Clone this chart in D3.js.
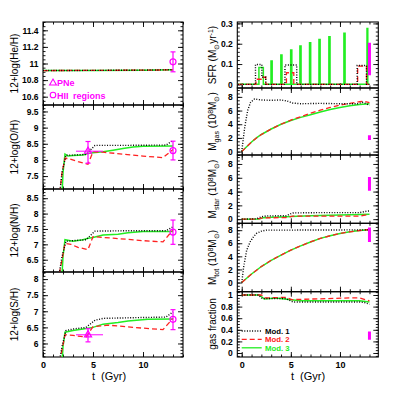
<!DOCTYPE html>
<html>
<head>
<meta charset="utf-8">
<script src="https://cdn.jsdelivr.net/npm/d3@7"></script>
<style>
body { margin: 0; background: #fff; }
text { font-family: "Liberation Sans", Arial, sans-serif; }
</style>
</head>
<body>
<svg id="fig" width="399" height="399"></svg>
<script>
// ---- data: [t (Gyr), value] ----
var he_mod1 = [[0,10.915],[5,10.917],[10,10.92],[13,10.925]];
var he_mod2 = [[0,10.915],[5,10.917],[10,10.92],[13,10.923]];
var he_mod3 = [[0,10.915],[5,10.917],[10,10.92],[13,10.924]];

var oh_mod1 = [[1.5,6.5],[1.9,7.6],[2.3,8.15],[3,8.15],[4.3,8.17],[5.2,8.45],[8,8.45],[12.3,8.46],[13,8.6]];
var oh_mod2 = [[1.5,6.5],[1.9,7.6],[2.2,8.05],[2.6,8.04],[3.5,7.95],[4.5,7.87],[5,8.25],[6,8.24],[8,8.18],[10,8.12],[12,8.07],[13,8.32]];
var oh_mod3 = [[1.9,6.9],[2.0,7.6],[2.2,8.18],[2.5,8.12],[3,8.14],[4,8.15],[4.5,8.2],[5,8.22],[6,8.25],[7,8.3],[8,8.35],[9,8.4],[10,8.42],[13,8.43]];

var nh_mod1 = [[1.5,5.8],[1.9,6.6],[2.3,7.1],[3,7.12],[4.3,7.15],[5.2,7.43],[8,7.44],[12.3,7.44],[13,7.57]];
var nh_mod2 = [[1.5,5.8],[1.9,6.5],[2.2,7.03],[2.8,7.0],[3.5,6.9],[4.5,6.83],[5,7.25],[7,7.2],[10,7.12],[12,7.08],[13,7.47]];
var nh_mod3 = [[1.9,6.0],[2.0,6.6],[2.2,7.15],[3,7.1],[4,7.15],[4.5,7.2],[5,7.22],[6,7.3],[7.5,7.33],[8.5,7.38],[10,7.42],[13,7.42]];

var sh_mod1 = [[1.5,5.2],[1.9,5.9],[2.3,6.4],[3,6.45],[4.3,6.5],[5.2,6.72],[6,6.78],[9,6.8],[12.3,6.82],[13,6.98]];
var sh_mod2 = [[1.5,5.2],[1.9,5.8],[2.2,6.27],[3,6.25],[4.3,6.2],[5,6.52],[6.5,6.57],[9,6.5],[12,6.43],[13,6.78]];
var sh_mod3 = [[1.9,5.4],[2.0,5.9],[2.2,6.35],[3,6.4],[4,6.45],[5,6.5],[6,6.6],[7.5,6.65],[8.5,6.7],[10.5,6.75],[13,6.76]];

// observations: [t, value, low, high]  (PNe also carry an age range)
var hii_he = [13, 11.02, 10.9, 11.14];
var hii_oh = [13, 8.29, 8.0, 8.58];
var hii_nh = [13, 7.4, 7.0, 7.79];
var hii_sh = [13, 6.75, 6.43, 7.05];
var pne_oh = [4.5, 8.27, 7.9, 8.57];
var pne_sh = [4.5, 6.27, 6.05, 6.46];
var pneAge = [3.3, 6.0];

// SFR change points (step functions)
var sfr_mod1 = [[-0.4,0],[1.4,0.098],[2.05,0.035],[2.45,0],[4.4,0.095],[5.6,0],[11.75,0.093],[12.7,0],[13,0]];
var sfr_mod2 = [[-0.4,0],[1.45,0.025],[2.05,0.035],[2.45,0],[4.55,0.057],[5.3,0],[11.8,0.09],[12.7,0],[13,0]];
var sfr_mod3 = [[-0.4,0],[1.75,0.083],[2.2,0],[2.98,0.115],[3.1,0],[3.98,0.144],[4.1,0],[4.98,0.169],[5.1,0],
                [5.92,0.189],[6.04,0],[6.9,0.205],[7.02,0],[7.86,0.221],[7.98,0],[8.87,0.234],[8.99,0],
                [10.4,0.251],[10.52,0],[12.75,0.275],[12.83,0],[13,0]];

var mgas_mod1 = [[0,0],[0.3,3.5],[0.6,6.0],[0.9,7.2],[1.3,7.7],[2,7.55],[3,7.5],[4,7.55],[4.6,7.4],[5.2,7.1],[6,7.0],[8,7.05],[10,7.0],[11.8,7.0],[12.3,7.2],[12.7,7.0],[13,6.75]];
var mgas_mod2 = [[0,0],[0.5,0.7],[1,1.4],[1.5,2.0],[2,2.5],[3,3.3],[4,4.0],[5,4.6],[6,5.1],[7,5.6],[8,6.05],[9,6.45],[10,6.8],[11,7.05],[12,7.3],[12.5,7.35],[13,7.15]];
var mgas_mod3 = [[0,0],[0.5,0.7],[1,1.4],[1.5,2.0],[2,2.5],[3,3.3],[4,4.0],[5,4.55],[6,5.0],[7,5.4],[8,5.8],[9,6.15],[10,6.45],[11,6.7],[12,6.9],[13,7.0]];

var mstar_mod1 = [[0,0],[1.5,0.05],[2,0.35],[2.5,0.47],[4.5,0.5],[5.2,0.9],[8,0.95],[12,0.95],[12.7,1.15],[13,1.2]];
var mstar_mod2 = [[0,0],[1.5,0.02],[2,0.15],[2.5,0.2],[4.5,0.22],[5.2,0.45],[12,0.45],[13,0.7]];
var mstar_mod3 = [[0,0],[1.8,0.02],[2.2,0.22],[3,0.28],[4,0.33],[5,0.4],[7,0.5],[10,0.6],[13,0.72]];

var mtot_mod1 = [[0,0],[0.2,2.4],[0.5,4.9],[0.85,6.2],[1.2,7.0],[1.5,7.5],[2,7.85],[2.5,8.0],[13,8.05]];
var mtot_mod2 = [[0,0],[1,1.3],[2,2.45],[3,3.4],[4,4.2],[5,4.95],[6,5.6],[7,6.2],[8,6.75],[9,7.15],[10,7.5],[11,7.75],[12,7.95],[13,8.1]];
var mtot_mod3 = [[0,0],[1,1.3],[2,2.45],[3,3.4],[4,4.2],[5,4.95],[6,5.6],[7,6.2],[8,6.75],[9,7.15],[10,7.5],[11,7.75],[12,7.95],[13,8.08]];

var fgas_mod1 = [[0,1.0],[1.7,1.0],[2.1,0.94],[4.5,0.94],[5.2,0.88],[12,0.88],[12.5,0.87],[13,0.84]];
var fgas_mod2 = [[0,1.0],[2,1.0],[2.4,0.95],[4.5,0.96],[5.1,0.92],[7,0.93],[11,0.95],[12,0.95],[13,0.9]];
var fgas_mod3 = [[0,1.0],[1.8,1.0],[2.3,0.93],[3.5,0.95],[5,0.92],[6,0.9],[12,0.9],[13,0.88]];

// observed ranges at t = 13 Gyr: [t, low, high]
var obs_sfr = [13, 0.045, 0.205];
var obs_mgas = [13, 1.7, 2.4];
var obs_mstar = [13, 4.1, 6.1];
var obs_mtot = [13, 6.2, 8.4];
var obs_fgas = [13, 0.23, 0.37];

var xTicks = [0, 5, 10];
var heTicks = [10.6, 10.8, 11, 11.2, 11.4];
var ohTicks = [7.5, 8, 8.5, 9, 9.5];
var nhTicks = [6.5, 7, 7.5, 8, 8.5];
var shTicks = [6, 6.5, 7, 7.5, 8];
var sfrTicks = [0, 0.1, 0.2, 0.3];
var massTicks = [0, 2, 4, 6, 8];
var fgasTicks = [0, 0.2, 0.4, 0.6, 0.8, 1];

var modNames = ["Mod. 1", "Mod. 2", "Mod. 3"];
var modColor = ["#000000", "#ff2020", "#22ee22"];
var modDash = ["1,1.6", "5,3", null];
var magenta = "#ff00ff";

var svg = d3.select("#fig");
var defs = svg.append("defs");
var fmt = d3.format("~g");

var xL = d3.scaleLinear().domain([0, 14]).range([43, 183]);
var xR = d3.scaleLinear().domain([-0.45, 13.9]).range([237.3, 378.3]);

function minorOf(dom, step) {
  var lo = Math.ceil(Math.min(dom[0], dom[1]) / step - 1e-6);
  var hi = Math.floor(Math.max(dom[0], dom[1]) / step + 1e-6);
  return d3.range(lo, hi + 1).map(function(i) { return +(i * step).toFixed(4); });
}

var clipN = 0;
function panel(x, top, bottom, ydom, yMajor, yMinorStep, showX) {
  var y = d3.scaleLinear().domain(ydom).range([bottom, top]);
  var x0 = x.range()[0], x1 = x.range()[1];
  var g = svg.append("g");
  var xMinor = minorOf(x.domain(), 1);
  var yMinor = minorOf(ydom, yMinorStep);

  function ax(gen, tx, ty, vals, size, labels, pad) {
    var a = g.append("g").attr("transform", "translate(" + tx + "," + ty + ")")
      .call(gen.tickValues(vals).tickSize(size).tickSizeOuter(0).tickPadding(pad || 3)
        .tickFormat(labels ? fmt : ""));
    a.select(".domain").remove();
    a.selectAll("line").attr("stroke-width", 0.9);
    a.selectAll("text").attr("font-size", 8.5).attr("font-weight", "bold")
      .attr("font-family", "'Liberation Sans', Arial, sans-serif");
    return a;
  }
  ax(d3.axisLeft(y), x0, 0, yMajor, -5, true, 4.5);
  ax(d3.axisLeft(y), x0, 0, yMinor, -2.5, false);
  ax(d3.axisRight(y), x1, 0, yMajor, -5, false);
  ax(d3.axisRight(y), x1, 0, yMinor, -2.5, false);
  ax(d3.axisTop(x), 0, top, xTicks, -5, false);
  ax(d3.axisTop(x), 0, top, xMinor, -2.5, false);
  var b = ax(d3.axisBottom(x), 0, bottom, xTicks, -5, showX, 5);
  ax(d3.axisBottom(x), 0, bottom, xMinor, -2.5, false);
  b.selectAll("text").attr("font-size", 9);

  g.append("rect").attr("x", x0).attr("y", top).attr("width", x1 - x0).attr("height", bottom - top)
    .attr("fill", "none").attr("stroke", "#000").attr("stroke-width", 1.1);

  var id = "clip" + (clipN++);
  defs.append("clipPath").attr("id", id).append("rect")
    .attr("x", x0).attr("y", top).attr("width", x1 - x0).attr("height", bottom - top);
  var plot = svg.append("g").attr("clip-path", "url(#" + id + ")");
  return { x: x, y: y, g: plot, top: top, bottom: bottom };
}

function models(p, series, curve) {
  var line = d3.line().x(function(d) { return p.x(d[0]); }).y(function(d) { return p.y(d[1]); });
  if (curve) line.curve(curve);
  [2, 1, 0].forEach(function(i) {
    p.g.append("path").datum(series[i]).attr("d", line)
      .attr("fill", "none").attr("stroke", modColor[i])
      .attr("stroke-width", i == 0 ? 1.4 : (i == 2 ? 1.5 : 1.3))
      .attr("stroke-dasharray", modDash[i]);
  });
}

function hii(p, o) {
  p.g.append("line").attr("x1", p.x(o[0])).attr("x2", p.x(o[0]))
    .attr("y1", p.y(o[2])).attr("y2", p.y(o[3])).attr("stroke", magenta).attr("stroke-width", 1.2);
  [o[2], o[3]].forEach(function(v) {
    p.g.append("line").attr("x1", p.x(o[0]) - 2.5).attr("x2", p.x(o[0]) + 2.5)
      .attr("y1", p.y(v)).attr("y2", p.y(v)).attr("stroke", magenta).attr("stroke-width", 1.2);
  });
  p.g.append("circle").attr("class", "hii").attr("cx", p.x(o[0])).attr("cy", p.y(o[1])).attr("r", 3)
    .attr("fill", "none").attr("stroke", magenta).attr("stroke-width", 1.2);
}

function pne(p, o) {
  var cx = p.x(o[0]);
  p.g.append("line").attr("x1", p.x(pneAge[0])).attr("x2", p.x(pneAge[1]))
    .attr("y1", p.y(o[1])).attr("y2", p.y(o[1])).attr("stroke", magenta).attr("stroke-width", 1);
  p.g.append("line").attr("x1", cx).attr("x2", cx)
    .attr("y1", p.y(o[2])).attr("y2", p.y(o[3])).attr("stroke", magenta).attr("stroke-width", 1.2);
  [o[2], o[3]].forEach(function(v) {
    p.g.append("line").attr("x1", cx - 2.5).attr("x2", cx + 2.5)
      .attr("y1", p.y(v)).attr("y2", p.y(v)).attr("stroke", magenta).attr("stroke-width", 1.2);
  });
  p.g.append("path").attr("d", d3.symbol(d3.symbolTriangle, 22)())
    .attr("transform", "translate(" + cx + "," + p.y(o[1]) + ")")
    .attr("fill", "none").attr("stroke", magenta).attr("stroke-width", 1.2);
}

function obsBar(p, o) {
  p.g.append("line").attr("x1", p.x(o[0])).attr("x2", p.x(o[0]))
    .attr("y1", p.y(o[1])).attr("y2", p.y(o[2])).attr("stroke", magenta).attr("stroke-width", 3);
}

function title(cx, cy, parts, fs) {
  fs = fs || 10;
  var t = svg.append("text")
    .attr("transform", "translate(" + cx + "," + cy + ") rotate(-90)")
    .attr("text-anchor", "middle").attr("font-size", fs);
  var shift = 0;
  parts.forEach(function(pt) {
    var s = pt[1] == "sub" ? 2.5 : pt[1] == "sup" ? -3.5 : 0;
    t.append("tspan").attr("dy", s - shift).attr("font-size", s ? fs * 0.7 : fs).text(pt[0]);
    shift = s;
  });
}

// ---- left column ----
var pHe = panel(xL, 22, 105, [10.5, 11.5], heTicks, 0.05, false);
models(pHe, [he_mod1, he_mod2, he_mod3]);
hii(pHe, hii_he);

var pO = panel(xL, 105, 189, [7.1, 9.7], ohTicks, 0.1, false);
models(pO, [oh_mod1, oh_mod2, oh_mod3]);
pne(pO, pne_oh);
hii(pO, hii_oh);

var pN = panel(xL, 189, 272, [6.1, 8.8], nhTicks, 0.1, false);
models(pN, [nh_mod1, nh_mod2, nh_mod3]);
hii(pN, hii_nh);

var pS = panel(xL, 272, 357, [5.58, 8.22], shTicks, 0.1, true);
models(pS, [sh_mod1, sh_mod2, sh_mod3]);
pne(pS, pne_sh);
hii(pS, hii_sh);

// legend for observations
svg.append("path").attr("d", d3.symbol(d3.symbolTriangle, 20)())
  .attr("transform", "translate(53,83)").attr("fill", "none").attr("stroke", magenta).attr("stroke-width", 1.1);
svg.append("text").attr("x", 57).attr("y", 86).attr("font-size", 9).attr("font-weight", "bold")
  .attr("fill", magenta).text("PNe");
svg.append("circle").attr("cx", 53).attr("cy", 95).attr("r", 2.8)
  .attr("fill", "none").attr("stroke", magenta).attr("stroke-width", 1.1);
svg.append("text").attr("x", 57).attr("y", 98.5).attr("font-size", 9).attr("font-weight", "bold")
  .attr("fill", magenta).attr("word-spacing", 2).text("HII regions");

title(18, 63.5, [["12+log(He/H)"]]);
title(18, 147, [["12+log(O/H)"]]);
title(18, 230.5, [["12+log(N/H)"]]);
title(18, 314.5, [["12+log(S/H)"]]);

// ---- right column ----
var pSfr = panel(xR, 22, 88, [-0.018, 0.307], sfrTicks, 0.02, false);
models(pSfr, [sfr_mod1, sfr_mod2, sfr_mod3], d3.curveStepAfter);
obsBar(pSfr, obs_sfr);

var pGas = panel(xR, 88, 155, [-0.5, 9.3], massTicks, 0.5, false);
models(pGas, [mgas_mod1, mgas_mod2, mgas_mod3]);
obsBar(pGas, obs_mgas);

var pStar = panel(xR, 155, 223.3, [-0.6, 9.3], massTicks, 0.5, false);
models(pStar, [mstar_mod1, mstar_mod2, mstar_mod3]);
obsBar(pStar, obs_mstar);

var pTot = panel(xR, 223.3, 291.7, [-1.4, 9.05], massTicks, 0.5, false);
models(pTot, [mtot_mod1, mtot_mod2, mtot_mod3]);
obsBar(pTot, obs_mtot);

var pF = panel(xR, 291.7, 357, [-0.069, 1.057], fgasTicks, 0.05, true);
models(pF, [fgas_mod1, fgas_mod2, fgas_mod3]);
obsBar(pF, obs_fgas);

title(216, 55, [["SFR  (M"], ["\u2299", "sub"], ["yr"], ["-1", "sup"], [")"]]);
title(216, 121.5, [["M"], ["gas", "sub"], ["  (10"], ["8", "sup"], ["M"], ["\u2299", "sub"], [")"]]);
title(216, 189, [["M"], ["star", "sub"], ["  (10"], ["8", "sup"], ["M"], ["\u2299", "sub"], [")"]]);
title(216, 257.5, [["M"], ["tot", "sub"], ["  (10"], ["8", "sup"], ["M"], ["\u2299", "sub"], [")"]]);
title(216, 324, [["gas fraction"]]);

// model legend
modNames.forEach(function(n, i) {
  var yy = 331 + i * 8.4;
  svg.append("line").attr("x1", 241.7).attr("x2", 261.7).attr("y1", yy).attr("y2", yy)
    .attr("stroke", modColor[i]).attr("stroke-width", 1.3).attr("stroke-dasharray", modDash[i]);
  svg.append("text").attr("x", 265).attr("y", yy + 2.8).attr("font-size", 7.8).attr("font-weight", "bold")
    .attr("fill", modColor[i]).text(n);
});

// x axis titles
svg.append("text").attr("x", 109).attr("y", 380).attr("text-anchor", "middle")
  .attr("font-size", 11).attr("word-spacing", 3).text("t (Gyr)");
svg.append("text").attr("x", 308).attr("y", 380).attr("text-anchor", "middle")
  .attr("font-size", 11).attr("word-spacing", 3).text("t (Gyr)");
</script>
</body>
</html>
